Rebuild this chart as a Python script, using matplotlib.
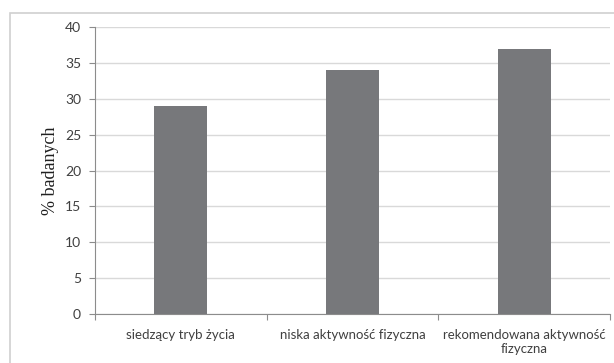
import matplotlib.pyplot as plt
from matplotlib.patches import Rectangle
import numpy as np

categories = ["siedzący tryb życia", "niska aktywność fizyczna",
              "rekomendowana aktywność\nfizyczna"]
values = [29, 34, 37]
yticks = [0, 5, 10, 15, 20, 25, 30, 35, 40]

BAR_COLOR = "#77787b"
GRID_COLOR = "#d9d9d9"
AXIS_COLOR = "#8c8c8c"
TEXT_COLOR = "#404040"
TICK_FONT = ["Lato", "DejaVu Sans"]

fig = plt.figure(figsize=(6.14, 3.63), dpi=100)
fig.patch.set_facecolor("white")

# outer chart border (open on the right, as in the original layout)
fig.patches.append(Rectangle((10 / 614, -0.01), 620 / 614, 354 / 363,
                             transform=fig.transFigure, fill=False,
                             edgecolor="#d0d0d0", linewidth=1.2))

ax = fig.add_axes([95 / 614, 49 / 363, 515 / 614, 287 / 363])
x = np.arange(len(categories))
ax.bar(x, values, width=0.31, color=BAR_COLOR, zorder=3)

ax.set_xlim(-0.5, len(categories) - 0.5)
ax.set_ylim(0, 40)
ax.set_yticks(yticks)
ax.set_yticklabels([str(t) for t in yticks], family=TICK_FONT,
                   fontsize=10, color=TEXT_COLOR)
ax.yaxis.grid(True, color=GRID_COLOR, linewidth=1.0, zorder=0)
ax.tick_params(axis="y", length=4, width=0.8, color=AXIS_COLOR, pad=6)

# category labels centred under bars, ticks at category boundaries
ax.set_xticks(np.arange(-0.5, len(categories) + 0.5, 1.0))
ax.set_xticklabels([])
ax.tick_params(axis="x", length=4, width=0.8, color=AXIS_COLOR, direction="out")
ax.set_xticks(x, minor=True)
ax.set_xticklabels(categories, minor=True, family=TICK_FONT, fontsize=9.5,
                   color=TEXT_COLOR, linespacing=1.15)
ax.tick_params(axis="x", which="minor", length=0, pad=11)

for side in ["top", "right"]:
    ax.spines[side].set_visible(False)
for side in ["left", "bottom"]:
    ax.spines[side].set_color(AXIS_COLOR)
    ax.spines[side].set_linewidth(0.8)

ax.set_ylabel("% badanych", family="Liberation Serif", fontsize=13,
              color="#202020", labelpad=4)

fig.savefig("out.png", dpi=100)
